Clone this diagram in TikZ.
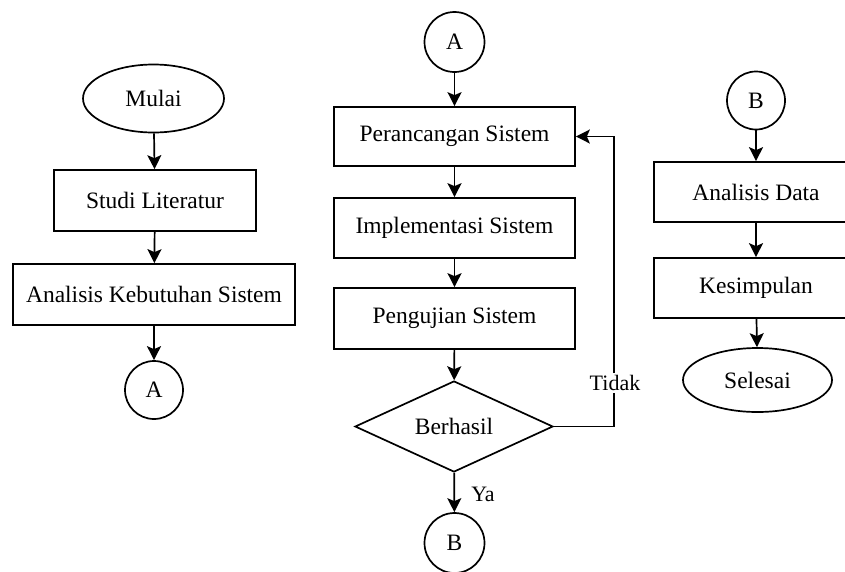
\documentclass[tikz,border=0pt]{standalone}
\usepackage{fontspec}
\setmainfont{Liberation Serif}
\usetikzlibrary{shapes.geometric,arrows.meta}
\begin{document}
\begin{tikzpicture}[x=1pt,y=-1pt,
  every node/.style={font=\fontsize{23.5}{27}\selectfont},
  base/.style={draw=black, line width=1.7pt, inner sep=0pt, anchor=center},
  proc/.style={base, rectangle, minimum height=60pt},
  term/.style={base, ellipse},
  conn/.style={base, circle},
  dec/.style={base, diamond, aspect=2.18, minimum width=198pt, minimum height=91pt},
  arr/.style={line width=1.7pt, -{Stealth[length=14pt,width=14pt,inset=3pt]}},
  lbl/.style={font=\fontsize{22}{25}\selectfont, inner sep=2pt}
]
\useasboundingbox (0,0) rectangle (845,571);
% left column
\node[term, minimum width=141pt, minimum height=68pt] (mulai) at (153.5,98.5) {Mulai};
\node[proc, minimum width=202pt, minimum height=61pt] (studi) at (155,200.5) {Studi Literatur};
\node[proc, minimum width=282pt, minimum height=61pt] (akb) at (154,294.5) {Analisis Kebutuhan Sistem};
\node[conn, minimum size=58pt] (A1) at (154,390) {A};
% middle column
\node[conn, minimum size=60pt] (A2) at (454.5,42) {A};
\node[proc, minimum width=241pt, minimum height=59pt] (per) at (454.5,136.5) {Perancangan Sistem};
\node[proc, minimum width=241pt, minimum height=60pt] (imp) at (454.5,228) {Implementasi Sistem};
\node[proc, minimum width=241pt, minimum height=61pt] (pen) at (454.5,318.5) {Pengujian Sistem};
\node[dec] (ber) at (454,426.5) {Berhasil};
\node[conn, minimum size=60pt] (B1) at (454.5,543) {B};
% right column
\node[conn, minimum size=58pt] (B2) at (756,100.5) {B};
\node[proc, minimum width=204pt, minimum height=60pt] (ad) at (756,192) {Analisis Data};
\node[proc, minimum width=204pt, minimum height=60pt] (kes) at (756,288) {Kesimpulan};
\node[term, minimum width=149pt, minimum height=64pt] (sel) at (757.5,380) {Selesai};
% connectors
\draw[arr] (mulai) -- (studi);
\draw[arr] (studi) -- (akb);
\draw[arr] (akb) -- (A1);
\draw[arr] (A2) -- (per);
\draw[arr] (per) -- (imp);
\draw[arr] (imp) -- (pen);
\draw[arr] (pen) -- (ber);
\draw[arr] (ber) -- (B1);
\draw[arr] (B2) -- (ad);
\draw[arr] (ad) -- (kes);
\draw[arr] (kes) -- (sel);
\coordinate (lb) at (614,426.5);
\coordinate (lt) at (614,136.5);
\draw[arr] (ber.east) -- (lb) -- (lt) -- (per.east);
\node[lbl, fill=white] (tidak) at (615,383) {Tidak};
\node[lbl] (ya) at (483,494) {Ya};
\end{tikzpicture}
\end{document}
